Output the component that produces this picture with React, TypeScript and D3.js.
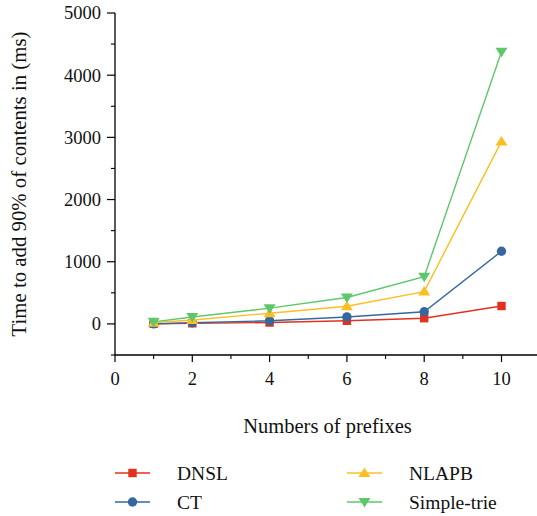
import React from "react";
import * as d3 from "d3";

const xValues = [1, 2, 4, 6, 8, 10];
const dnsl = [2, 10, 22, 50, 92, 288];
const ct = [0, 18, 50, 112, 195, 1168];
const nlapb = [20, 62, 172, 285, 520, 2935];
const simpleTrie = [33, 112, 253, 425, 760, 4378];
const xTicks = [0, 2, 4, 6, 8, 10];
const yTicks = [0, 1000, 2000, 3000, 4000, 5000];

const seriesNames = ["DNSL", "CT", "NLAPB", "Simple-trie"];
const seriesColors = ["#e3301f", "#35689f", "#fbbf23", "#5dc86b"];
const seriesShapes = ["square", "circle", "triangle", "triangleDown"];

const W = 537;
const H = 516;
const FONT = '"Liberation Serif", "Times New Roman", "DejaVu Serif", serif';

function Marker({ shape, x, y, color }: { shape: string; x: number; y: number; color: string }) {
  if (shape === "square") {
    return <rect x={x - 4.2} y={y - 4.2} width={8.4} height={8.4} fill={color} />;
  }
  if (shape === "circle") {
    return <circle cx={x} cy={y} r={4.7} fill={color} />;
  }
  if (shape === "triangle") {
    return <path d={`M${x},${y - 5.5} L${x + 6},${y + 4} L${x - 6},${y + 4} Z`} fill={color} />;
  }
  return <path d={`M${x},${y + 5.5} L${x + 6},${y - 4} L${x - 6},${y - 4} Z`} fill={color} />;
}

export default function App() {
  const x = d3.scaleLinear().domain([0, 10]).range([115, 501.5]);
  const y = d3.scaleLinear().domain([-500, 5000]).range([355, 13]);
  const data = [dnsl, ct, nlapb, simpleTrie];
  const line = d3
    .line<[number, number]>()
    .x((d) => x(d[0]))
    .y((d) => y(d[1]));

  const xMinor = d3.range(1, 11, 2);
  const yMinor = d3.range(-500, 5000, 1000);
  const xEnd = W;

  const legendItems = [
    { i: 0, lx: 115, ly: 473 },
    { i: 1, lx: 115, ly: 502 },
    { i: 2, lx: 347, ly: 473 },
    { i: 3, lx: 347, ly: 502 },
  ];

  const ts = { fontFamily: FONT } as React.CSSProperties;

  return (
    <svg
      width={W}
      height={H}
      style={{ position: "absolute", left: 0, top: 0, background: "#fff", fontFamily: FONT }}
    >
      <rect x={0} y={0} width={W} height={H} fill="#fff" />
      {/* axes */}
      <line x1={115} x2={115} y1={y(5000)} y2={355} stroke="#000" strokeWidth={1.3} />
      <line x1={115} x2={xEnd} y1={355} y2={355} stroke="#000" strokeWidth={1.3} />
      {yTicks.map((t) => (
        <g key={"yt" + t}>
          <line x1={107} x2={115} y1={y(t)} y2={y(t)} stroke="#000" strokeWidth={1.2} />
          <text x={101} y={y(t)} dy="0.35em" textAnchor="end" fontSize={18.5} fill="#111" style={ts}>
            {t}
          </text>
        </g>
      ))}
      {yMinor.map((t) => (
        <line key={"ym" + t} x1={111} x2={115} y1={y(t)} y2={y(t)} stroke="#000" strokeWidth={1.1} />
      ))}
      {xTicks.map((t) => (
        <g key={"xt" + t}>
          <line x1={x(t)} x2={x(t)} y1={355} y2={362} stroke="#000" strokeWidth={1.2} />
          <text x={x(t)} y={385} textAnchor="middle" fontSize={18.5} fill="#111" style={ts}>
            {t}
          </text>
        </g>
      ))}
      {xMinor.map((t) => (
        <line key={"xm" + t} x1={x(t)} x2={x(t)} y1={355} y2={359} stroke="#000" strokeWidth={1.1} />
      ))}
      {/* axis titles */}
      <text x={327.5} y={433} textAnchor="middle" fontSize={20.5} fill="#111" style={ts}>
        Numbers of prefixes
      </text>
      <text
        transform={`translate(26,184) rotate(-90)`}
        textAnchor="middle"
        fontSize={20.8}
        fill="#111"
        style={ts}
      >
        Time to add 90% of contents in (ms)
      </text>
      {/* series */}
      {data.map((vals, si) => {
        const pts: [number, number][] = xValues.map((xv, k) => [xv, vals[k]]);
        return (
          <g key={"s" + si}>
            <path d={line(pts) || ""} fill="none" stroke={seriesColors[si]} strokeWidth={1.4} />
            {pts.map((p, k) => (
              <Marker key={k} shape={seriesShapes[si]} x={x(p[0])} y={y(p[1])} color={seriesColors[si]} />
            ))}
          </g>
        );
      })}
      {/* legend */}
      {legendItems.map(({ i, lx, ly }) => (
        <g key={"lg" + i}>
          <line x1={lx} x2={lx + 35} y1={ly} y2={ly} stroke={seriesColors[i]} strokeWidth={1.6} />
          <Marker shape={seriesShapes[i]} x={lx + 17.5} y={ly} color={seriesColors[i]} />
          <text x={lx + 62} y={ly} dy="0.35em" fontSize={19.5} fill="#111" style={ts}>
            {seriesNames[i]}
          </text>
        </g>
      ))}
    </svg>
  );
}
